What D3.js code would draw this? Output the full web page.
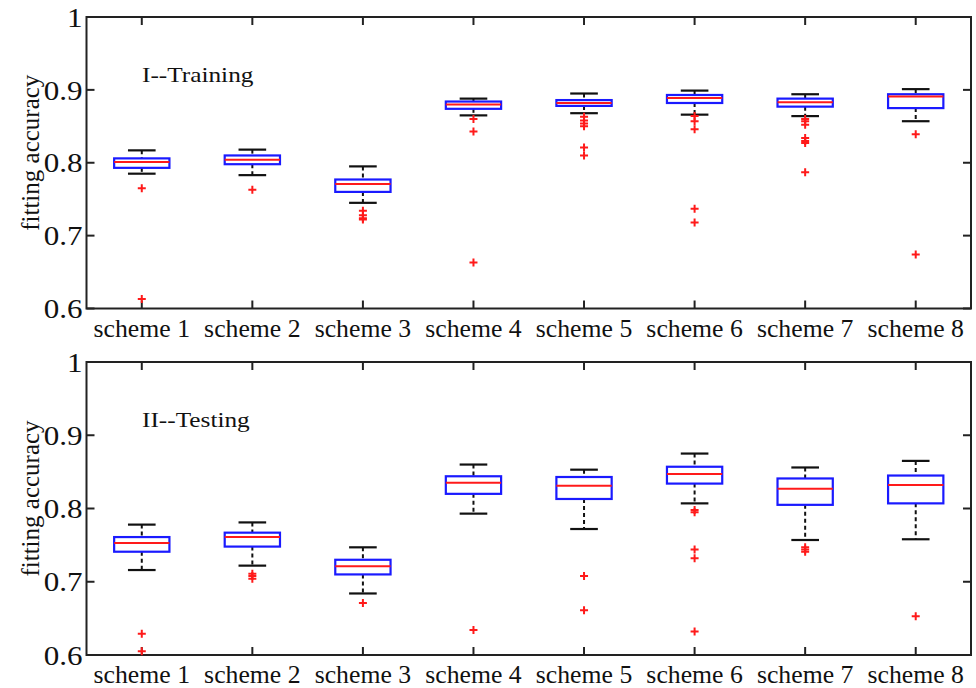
<!DOCTYPE html>
<html>
<head>
<meta charset="utf-8">
<script src="https://cdn.jsdelivr.net/npm/d3@7"></script>
<style>
  body { margin: 0; background: #fff; }
  svg text { font-family: "Liberation Serif", "Times New Roman", serif; fill: #111; }
</style>
</head>
<body>
<svg id="chart" width="976" height="688"></svg>
<script>
// Categories
const schemes = ["scheme 1", "scheme 2", "scheme 3", "scheme 4", "scheme 5", "scheme 6", "scheme 7", "scheme 8"];
const yTicks = [0.6, 0.7, 0.8, 0.9, 1];

// I--Training box statistics
const trainLow    = [0.785, 0.783, 0.745, 0.865, 0.868, 0.866, 0.864, 0.857];
const trainQ1     = [0.793, 0.798, 0.760, 0.874, 0.878, 0.882, 0.877, 0.875];
const trainMedian = [0.801, 0.804, 0.771, 0.880, 0.882, 0.889, 0.883, 0.891];
const trainQ3     = [0.806, 0.810, 0.777, 0.884, 0.886, 0.893, 0.888, 0.894];
const trainHigh   = [0.817, 0.818, 0.795, 0.888, 0.895, 0.899, 0.894, 0.901];
const trainOutliers = [
  [0.765, 0.613],
  [0.763],
  [0.734, 0.728, 0.724, 0.722],
  [0.860, 0.843, 0.663],
  [0.863, 0.858, 0.854, 0.850, 0.821, 0.810],
  [0.864, 0.857, 0.846, 0.737, 0.718],
  [0.860, 0.857, 0.852, 0.834, 0.830, 0.827, 0.787],
  [0.839, 0.674]
];

// II--Testing box statistics
const testLow    = [0.716, 0.722, 0.684, 0.793, 0.772, 0.807, 0.757, 0.758];
const testQ1     = [0.741, 0.748, 0.710, 0.820, 0.813, 0.834, 0.805, 0.807];
const testMedian = [0.753, 0.761, 0.721, 0.835, 0.831, 0.847, 0.827, 0.832];
const testQ3     = [0.761, 0.767, 0.730, 0.844, 0.843, 0.857, 0.841, 0.845];
const testHigh   = [0.778, 0.781, 0.747, 0.860, 0.853, 0.875, 0.856, 0.865];
const testOutliers = [
  [0.629, 0.605],
  [0.711, 0.708, 0.704],
  [0.671],
  [0.634],
  [0.708, 0.661],
  [0.798, 0.795, 0.744, 0.732, 0.632],
  [0.747, 0.744, 0.741],
  [0.653]
];

const svg = d3.select("#chart");

const x = d3.scaleLinear().domain([0.5, 8.5]).range([86.5, 971]);
const tickLen = 8;

function drawPanel(top, bottom, label, low, q1, med, q3, high, outliers) {
  const y = d3.scaleLinear().domain([0.6, 1]).range([bottom, top]);
  const g = svg.append("g");

  // axes frame
  g.append("rect")
    .attr("x", x(0.5)).attr("y", top)
    .attr("width", x(8.5) - x(0.5)).attr("height", bottom - top)
    .attr("fill", "none").attr("stroke", "#222").attr("stroke-width", 2);

  // left y tick labels (the source figure's text is a little stretched sideways)
  const yAxis = d3.axisLeft(y).tickValues(yTicks).tickSize(0)
    .tickFormat(d => d === 1 ? "1" : d3.format(".1f")(d));
  const ya = g.append("g").attr("transform", `translate(${x(0.5)},0)`).call(yAxis);
  ya.select(".domain").remove();
  ya.selectAll("text")
    .attr("x", 0).attr("dy", "0.34em")
    .attr("transform", "translate(-4,0) scale(1.15,1)")
    .attr("font-size", 27).attr("font-family", "Liberation Serif").attr("fill", "#111");

  // inward ticks on left and right
  yTicks.forEach(v => {
    g.append("line").attr("x1", x(0.5)).attr("x2", x(0.5) + tickLen)
      .attr("y1", y(v)).attr("y2", y(v)).attr("stroke", "#222").attr("stroke-width", 2);
    g.append("line").attr("x1", x(8.5)).attr("x2", x(8.5) - tickLen)
      .attr("y1", y(v)).attr("y2", y(v)).attr("stroke", "#222").attr("stroke-width", 2);
  });

  // inward ticks on top and bottom + category labels
  schemes.forEach((s, i) => {
    const cx = x(i + 1);
    g.append("line").attr("x1", cx).attr("x2", cx).attr("y1", top).attr("y2", top + tickLen)
      .attr("stroke", "#222").attr("stroke-width", 2);
    g.append("line").attr("x1", cx).attr("x2", cx).attr("y1", bottom).attr("y2", bottom - tickLen)
      .attr("stroke", "#222").attr("stroke-width", 2);
    g.append("text")
      .attr("transform", `translate(${cx},${bottom + 28}) scale(1.03,1)`)
      .attr("text-anchor", "middle").attr("font-size", 25).text(s);
  });

  // y axis title
  g.append("text")
    .attr("transform", `translate(39,${(top + bottom) / 2 - 10}) rotate(-90)`)
    .attr("text-anchor", "middle").attr("font-size", 25).text("fitting accuracy");

  // panel label
  g.append("text")
    .attr("transform", `translate(142,${top + 65}) scale(1.15,1)`)
    .attr("font-size", 22).text(label);

  // boxes
  const halfBox = (x(1.25) - x(1)), halfCap = (x(1.125) - x(1));
  schemes.forEach((s, i) => {
    const cx = x(i + 1);
    // whiskers (dashed)
    g.append("line").attr("x1", cx).attr("x2", cx).attr("y1", y(high[i])).attr("y2", y(q3[i]))
      .attr("stroke", "#111").attr("stroke-width", 2).attr("stroke-dasharray", "4,3");
    g.append("line").attr("x1", cx).attr("x2", cx).attr("y1", y(q1[i])).attr("y2", y(low[i]))
      .attr("stroke", "#111").attr("stroke-width", 2).attr("stroke-dasharray", "4,3");
    // caps
    [high[i], low[i]].forEach(v => {
      g.append("line").attr("x1", cx - halfCap).attr("x2", cx + halfCap)
        .attr("y1", y(v)).attr("y2", y(v)).attr("stroke", "#111").attr("stroke-width", 2.2);
    });
    // box
    g.append("rect").attr("x", cx - halfBox).attr("y", y(q3[i]))
      .attr("width", 2 * halfBox).attr("height", y(q1[i]) - y(q3[i]))
      .attr("fill", "none").attr("stroke", "#1a1aff").attr("stroke-width", 2.2);
    // median
    g.append("line").attr("x1", cx - halfBox).attr("x2", cx + halfBox)
      .attr("y1", y(med[i])).attr("y2", y(med[i])).attr("stroke", "#ff1a1a").attr("stroke-width", 2);
    // outliers
    outliers[i].forEach(v => {
      g.append("path")
        .attr("d", `M${cx - 4},${y(v)}H${cx + 4}M${cx},${y(v) - 4}V${y(v) + 4}`)
        .attr("stroke", "#ff1a1a").attr("stroke-width", 2).attr("fill", "none");
    });
  });
}

drawPanel(17, 308.5, "I--Training", trainLow, trainQ1, trainMedian, trainQ3, trainHigh, trainOutliers);
drawPanel(362, 655, "II--Testing", testLow, testQ1, testMedian, testQ3, testHigh, testOutliers);
</script>
</body>
</html>
